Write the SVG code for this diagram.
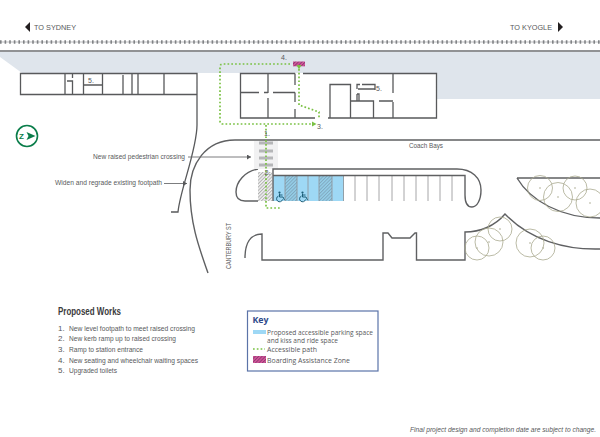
<svg xmlns="http://www.w3.org/2000/svg" width="600" height="437" viewBox="0 0 600 437">
<style>
.w{fill:none;stroke:#58595b;stroke-width:1.3}
.r{fill:none;stroke:#5f6062;stroke-width:1.4}
.t{fill:none;stroke:#a9a98f;stroke-width:.8}
.d{fill:#a9a98f}
.p{fill:none;stroke:#7ac143;stroke-width:1.7;stroke-dasharray:1.7 2.1}
.l{font-family:"Liberation Sans",Arial,sans-serif;font-size:8px;fill:#58595b}
.k{font-family:"Open Sans",Arial,sans-serif;font-size:7px;fill:#58595b}
.n{font-family:"Liberation Sans",Arial,sans-serif;font-size:7px;fill:#58595b}
.b{fill:#9ed8f5}
.div{stroke:#8f9193;stroke-width:.8}
.wh{fill:none;stroke:#1d5f7a;stroke-width:1}
</style>
<defs>
<pattern id="hg" width="2.4" height="2.4" patternUnits="userSpaceOnUse" patternTransform="rotate(45)"><rect width="2.4" height="2.4" fill="#f2f2f2"/><rect width="1" height="2.4" fill="#b0b0b0"/></pattern>
<pattern id="hb" width="2.4" height="2.4" patternUnits="userSpaceOnUse" patternTransform="rotate(45)"><rect width="2.4" height="2.4" fill="#96d0ea"/><rect width="1" height="2.4" fill="#7fa8bf"/></pattern>
<pattern id="hp" width="2.4" height="2.4" patternUnits="userSpaceOnUse" patternTransform="rotate(45)"><rect width="2.4" height="2.4" fill="#d8559a"/><rect width="1" height="2.4" fill="#8c3b74"/></pattern>
<marker id="ga" markerWidth="6" markerHeight="6" refX="4" refY="3" orient="auto" markerUnits="userSpaceOnUse"><path d="M0 .5L4.500 3L0 5.500z" fill="#7ac143"/></marker>
<marker id="da" markerWidth="6" markerHeight="6" refX="4" refY="2.500" orient="auto" markerUnits="userSpaceOnUse"><path d="M0 0L4 2.500L0 5z" fill="#58595b"/></marker>
<g id="wc"><circle cx="3.500" cy="-7.500" r="1.100" fill="#1d5f7a"/><path class="wh" d="M3.500-6.500V-3H7L8.500 0M3.500-5H6.500"/><path class="wh" d="M2.500-4A3 3 0 1 0 6.500-.5"/></g>
</defs>

<g id="platform"><path d="M0 52H600V99H437V73H22L0 57z" fill="#dfe5ec"/><path d="M0 51H600" stroke="#6d6e70" stroke-width="1.600"/></g>
<g id="rail"><path d="M0 42H600" stroke="#bcbdbf" stroke-width="1"/><path d="M0 42H600" stroke="#808285" stroke-width="3.500" stroke-dasharray="1.600 3"/></g>
<g id="direction-sydney"><path d="M25 27L30 22V32z" fill="#231f20"/><text x="34" y="29.500" class="l" textLength="42" lengthAdjust="spacingAndGlyphs">TO SYDNEY</text></g>
<g id="direction-kyogle"><path d="M563 27L558 22V32z" fill="#231f20"/><text x="510" y="29.500" class="l" textLength="42" lengthAdjust="spacingAndGlyphs">TO KYOGLE</text></g>

<g id="building-left">
<path class="w" d="M20.500 73.500H197V94.500H20.500zM65 73.500V94.500M67 81H72.500V94.500M72.500 73.500V78M83.500 73.500V94.500M84 85H102M102.500 73.500V94.500M123 75V94.500M132 73.500V94.500M138 73.500V94.500M164 73.500V94.500M197 94.500V125C197 150 180 190 178 212H171"/>
<text x="88" y="83" class="n">5.</text>
</g>
<g id="building-station">
<path class="w" d="M295 73.500H240.500V118H315M303 73.500H436.500V118H328M268 73.500V93M268 98V118M240.500 92.500H259M264 92.500H268M273 92.500H295M295 73.500V85M295 92.500V102M295 109V118M330 118V84.500H350.500V118M350.500 101H373.500V118M379 101H382M382 101H393M393 73.500V93M393 102V118M357 89V84.500H360M362 84.500H375V90M358 89H375M357 94H359V101M357 94V101"/>
<text x="376" y="90.500" class="n">5.</text>
</g>

<g id="roads">
<path class="r" d="M600 140H235C205 140 190 165 190 190C190 225 200 250 208 273"/>
<path class="r" d="M245 258C245 244 250 234 262 234V260H383V233H388L392 238H410L415 233H416.500V260H465V232C480 232 495 226 505 214C530 240 565 250 600 249"/>
<path class="r" d="M517 178H600M517 178C530 200 560 218 600 218"/>
<path class="r" d="M258 169C245 171 236 182 236 192C236 199 240 201 245 201H258"/>
</g>

<g id="crossing">
<rect x="254" y="141" width="24" height="28" fill="#f1f1f2"/>
<path d="M259 143H273M259 151H273M259 158H273M259 165H273" stroke="#b5b6b8" stroke-width="3"/>
<rect x="258" y="172" width="14" height="29" fill="url(#hg)"/>
</g>

<g id="parking">
<rect x="273" y="176" width="71" height="25" class="b"/>
<rect x="285" y="176" width="12" height="25" fill="url(#hb)"/>
<rect x="319" y="176" width="13" height="25" fill="url(#hb)"/>
<path class="div" d="M285 176V201M297 176V201M308 176V201M319 176V201M332 176V201M343.500 176V201M355 176V201M367 176V201M379 176V201M392 176V201M404 176V201M416 176V201M428 176V201M440 176V201M452 176V201"/>
<path class="r" d="M273 201V169H457C472 169 481 178 481 190C481 200 477 207 472 207C467 207 465 203 465 195V175.500H273"/>
<use href="#wc" x="276" y="200"/>
<use href="#wc" x="299" y="200"/>
</g>

<g id="trees">
<circle class="t" cx="540" cy="188" r="12.500"/><circle class="t" cx="558" cy="197" r="14.500"/><circle class="t" cx="575" cy="188" r="12"/><circle class="t" cx="590" cy="203" r="14"/>
<circle class="t" cx="500" cy="229" r="12"/><circle class="t" cx="489" cy="242" r="14"/><circle class="t" cx="477" cy="248" r="12"/><circle class="t" cx="530" cy="243" r="14"/><circle class="t" cx="543" cy="248" r="12"/>
<circle class="d" cx="540" cy="188" r=".8"/><circle class="d" cx="558" cy="197" r=".8"/><circle class="d" cx="575" cy="188" r=".8"/><circle class="d" cx="590" cy="203" r=".8"/><circle class="d" cx="500" cy="229" r=".8"/><circle class="d" cx="489" cy="242" r=".8"/><circle class="d" cx="477" cy="248" r=".8"/><circle class="d" cx="530" cy="243" r=".8"/><circle class="d" cx="543" cy="248" r=".8"/>
</g>

<g id="boarding-zone"><rect x="293" y="61.500" width="12" height="4.800" fill="url(#hp)"/></g>

<g id="connectors">
<path class="p" d="M290 64H223Q220 64 220 67V121Q220 124 223 124H316" marker-end="url(#ga)"/>
<path class="p" d="M299 69V105L319 112V119" marker-start="url(#ga)"/>
<path class="p" d="M266 125V208H281"/>
<path d="M188 157H251" stroke="#6d6e70" stroke-width=".9" fill="none" marker-end="url(#da)"/>
<path d="M164 183.500H187" stroke="#6d6e70" stroke-width=".9" fill="none" marker-end="url(#da)"/>
</g>

<g id="callouts">
<text x="281" y="60" class="n">4.</text><text x="317" y="128.500" class="n">3.</text><text x="264" y="136" class="n">1.</text><text x="264.500" y="174.500" class="n">2.</text>
<text x="93" y="159" class="l" textLength="92" lengthAdjust="spacingAndGlyphs">New raised pedestrian crossing</text>
<text x="55" y="185" class="l" textLength="107" lengthAdjust="spacingAndGlyphs">Widen and regrade existing footpath</text>
<text x="409" y="147.500" class="l" textLength="34" lengthAdjust="spacingAndGlyphs">Coach Bays</text>
<text transform="translate(231 269) rotate(-90)" class="l" style="font-size:7px" textLength="46" lengthAdjust="spacingAndGlyphs">CANTERBURY ST</text>
</g>

<g id="north">
<circle cx="27" cy="136" r="10.500" fill="#fff" stroke="#0a7d4a" stroke-width="1.600"/>
<text x="19" y="139" font-family="Liberation Sans,sans-serif" font-size="8" font-weight="700" fill="#0a7d4a">Z</text>
<path d="M26.500 132L35.500 136L26.500 140L28.500 136z" fill="#0a7d4a"/>
</g>

<g id="proposed-works">
<text x="58" y="314.500" font-family="Liberation Sans,sans-serif" font-size="10" font-weight="700" fill="#3a3a3c" textLength="63" lengthAdjust="spacingAndGlyphs">Proposed Works</text>
<text x="58" y="330.500" class="l">1.</text><text x="69" y="330.500" class="l" textLength="126" lengthAdjust="spacingAndGlyphs">New level footpath to meet raised crossing</text>
<text x="58" y="341" class="l">2.</text><text x="69" y="341" class="l" textLength="107" lengthAdjust="spacingAndGlyphs">New kerb ramp up to raised crossing</text>
<text x="58" y="352" class="l">3.</text><text x="69" y="352" class="l" textLength="74" lengthAdjust="spacingAndGlyphs">Ramp to station entrance</text>
<text x="58" y="362.500" class="l">4.</text><text x="69" y="362.500" class="l" textLength="129" lengthAdjust="spacingAndGlyphs">New seating and wheelchair waiting spaces</text>
<text x="58" y="373" class="l">5.</text><text x="69" y="373" class="l" textLength="48" lengthAdjust="spacingAndGlyphs">Upgraded toilets</text>
</g>

<g id="key">
<rect x="247.500" y="311" width="130.500" height="60" fill="#fff" stroke="#5b73a8" stroke-width="1.200"/>
<text x="252.500" y="323" font-family="Open Sans,sans-serif" font-size="9" font-weight="700" fill="#2f4a8a" textLength="16" lengthAdjust="spacingAndGlyphs">Key</text>
<rect x="253" y="330" width="13" height="4" class="b"/>
<text x="267" y="335" class="k" textLength="106" lengthAdjust="spacingAndGlyphs">Proposed accessible parking space</text>
<text x="267" y="342.500" class="k" textLength="71" lengthAdjust="spacingAndGlyphs">and kiss and ride space</text>
<path class="p" d="M253 349H265"/>
<text x="267" y="351.500" class="k" textLength="50" lengthAdjust="spacingAndGlyphs">Accessible path</text>
<rect x="253" y="356" width="13" height="7" fill="url(#hp)"/>
<text x="267" y="362.500" class="k" textLength="83" lengthAdjust="spacingAndGlyphs">Boarding Assistance Zone</text>
</g>

<text id="disclaimer" x="410" y="432" font-family="Liberation Sans,sans-serif" font-size="6.500" font-style="italic" fill="#58595b" textLength="186" lengthAdjust="spacingAndGlyphs">Final project design and completion date are subject to change.</text>
</svg>
